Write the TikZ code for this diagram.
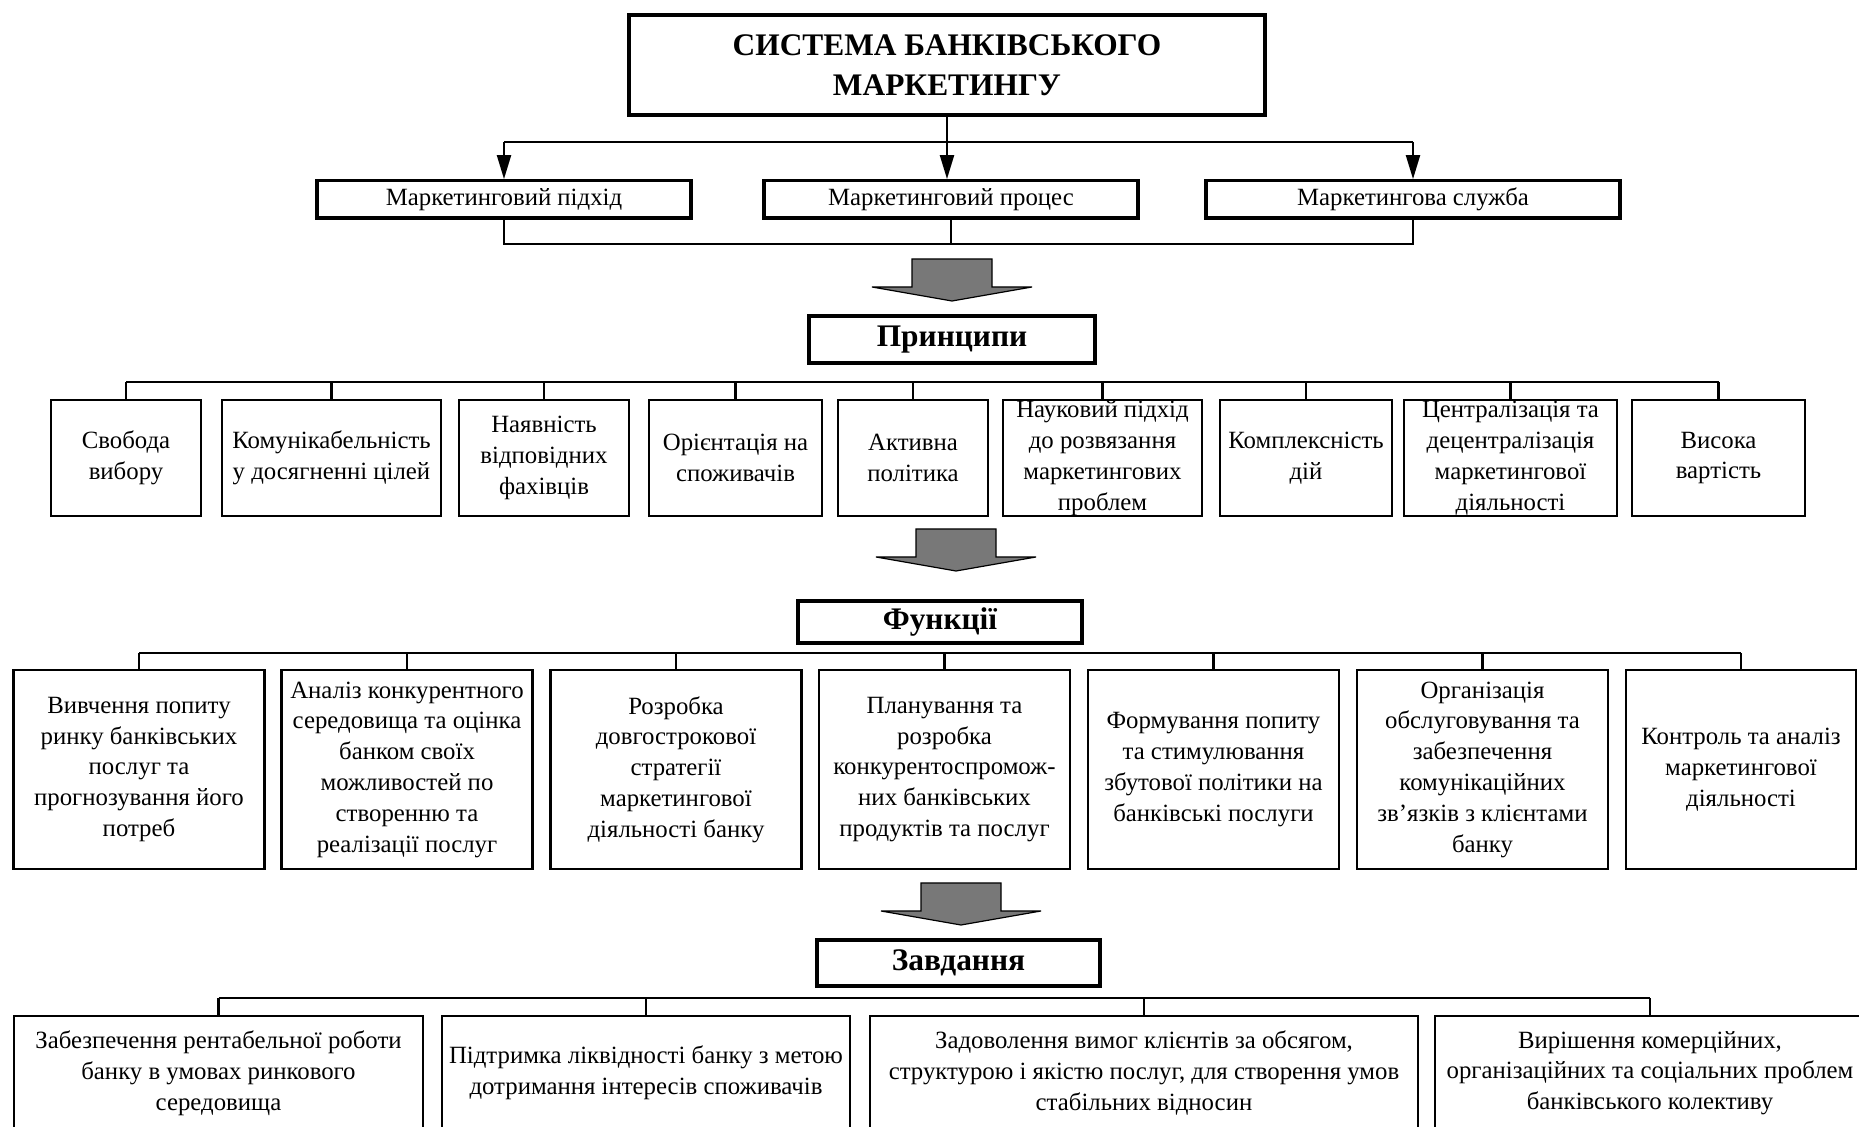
\documentclass[tikz,border=0pt]{standalone}
\usepackage{fontspec}
\setmainfont{Liberation Serif}
\usetikzlibrary{positioning,arrows.meta}

\tikzset{
	secbox/.style={draw, line width=1.9pt, align=center, inner sep=1pt, font=\bfseries\fontsize{15.7}{20}\selectfont},
	midbox/.style={draw, line width=1.7pt, align=center, inner sep=1pt, minimum height=18.7pt, font=\fontsize{12.4}{15.4}\selectfont},
	itembox/.style={draw, line width=1.2pt, align=center, inner xsep=2pt, inner ysep=1pt, font=\fontsize{12.4}{15.4}\selectfont},
	itemtext/.style={align=center, inner sep=0pt, font=\fontsize{12.4}{15.4}\selectfont},
	bus/.style={line width=1.1pt},
	blockarrow/.style={draw, line width=0.6pt, fill=black!53},
}

\begin{document}
\begin{tikzpicture}[x=0.5pt, y=-0.5pt, >={Triangle[length=12pt,width=7pt]}]
	\useasboundingbox (0,0) rectangle (1859,1127);
	\clip (0,0) rectangle (1859,1127);

	\node[secbox, line width=2.2pt, minimum width=318pt, minimum height=50pt] (title) at (947,65) {СИСТЕМА БАНКІВСЬКОГО\\МАРКЕТИНГУ};

	\node[midbox, minimum width=187pt] (approach) at (504,199.5) {Маркетинговий підхід};
	\node[midbox, minimum width=187pt] (process) at (951,199.5) {Маркетинговий процес};
	\node[midbox, minimum width=207pt] (service) at (1413,199.5) {Маркетингова служба};

	\coordinate (busA) at (0,142);
	\coordinate (busB) at (0,244);
	\draw[bus] (approach.north |- busA) -- (service.north |- busA);
	\draw[bus, ->] (approach.north |- busA) -- (approach.north);
	\draw[bus, ->] (title.south) -- (title.south |- process.north);
	\draw[bus, ->] (service.north |- busA) -- (service.north);
	\draw[bus] (approach.south) -- (approach.south |- busB) -- (service.south |- busB) -- (service.south);
	\draw[bus] (process.south) -- (process.south |- busB);

	\foreach \ax/\ay in {952/259, 956/529, 961/883}
		\draw[blockarrow] (\ax-40,\ay) -- (\ax+40,\ay) -- (\ax+40,\ay+28) -- (\ax+80,\ay+28) -- (\ax,\ay+42) -- (\ax-80,\ay+28) -- (\ax-40,\ay+28) -- cycle;

	\node[secbox, minimum width=143pt, minimum height=23.5pt] (principles) at (952,339.5) {Принципи};

	\node[itembox, minimum width=75pt, minimum height=58pt] (p1) at (126,458) {Свобода\\вибору};
	\node[itembox, minimum width=109.5pt, minimum height=58pt] (p2) at (331.5,458) {Комунікабельність\\у досягненні цілей};
	\node[itembox, minimum width=85pt, minimum height=58pt] (p3) at (544,458) {Наявність\\відповідних\\фахівців};
	\node[itembox, minimum width=86.5pt, minimum height=58pt] (p4) at (735.5,458) {Орієнтація на\\споживачів};
	\node[itembox, minimum width=75pt, minimum height=58pt] (p5) at (913,458) {Активна\\політика};
	\node[itembox, minimum width=99.5pt, minimum height=58pt, label={[itemtext]center:{Науковий підхід\\до розвязання\\маркетингових\\проблем}}] (p6) at (1102.5,458) {};
	\node[itembox, minimum width=86pt, minimum height=58pt] (p7) at (1306,458) {Комплексність\\дій};
	\node[itembox, minimum width=106.5pt, minimum height=58pt, label={[itemtext]center:{Централізація та\\децентралізація\\маркетингової\\діяльності}}] (p8) at (1510.5,458) {};
	\node[itembox, minimum width=86.5pt, minimum height=58pt] (p9) at (1718.5,458) {Висока\\вартість};

	\coordinate (busP) at (0,382);
	\draw[bus] (p1.north |- busP) -- (p9.north |- busP);
	\foreach \i in {1,...,9}
		\draw[bus] (p\i.north) -- (p\i.north |- busP);

	\node[secbox, minimum width=142pt, minimum height=21pt] (functions) at (940,622) {Функції};

	\node[itembox, minimum width=125.5pt, minimum height=99.5pt] (f1) at (139,769.5) {Вивчення попиту\\ринку банківських\\послуг та\\прогнозування його\\потреб};
	\node[itembox, minimum width=125.5pt, minimum height=99.5pt] (f2) at (407,769.5) {Аналіз конкурентного\\середовища та оцінка\\банком своїх\\можливостей по\\створенню та\\реалізації послуг};
	\node[itembox, minimum width=125.5pt, minimum height=99.5pt] (f3) at (676,769.5) {Розробка\\довгострокової\\стратегії\\маркетингової\\діяльності банку};
	\node[itembox, minimum width=125.5pt, minimum height=99.5pt] (f4) at (944.5,769.5) {Планування та\\розробка\\конкурентоспромож-\\них банківських\\продуктів та послуг};
	\node[itembox, minimum width=125.5pt, minimum height=99.5pt] (f5) at (1213.5,769.5) {Формування попиту\\та стимулювання\\збутової політики на\\банківські послуги};
	\node[itembox, minimum width=125.5pt, minimum height=99.5pt] (f6) at (1482.5,769.5) {Організація\\обслуговування та\\забезпечення\\комунікаційних\\зв\symbol{39}язків з клієнтами\\банку};
	\node[itembox, minimum width=115pt, minimum height=99.5pt] (f7) at (1741,769.5) {Контроль та аналіз\\маркетингової\\діяльності};

	\coordinate (busF) at (0,653);
	\draw[bus] (f1.north |- busF) -- (f7.north |- busF);
	\foreach \i in {1,...,7}
		\draw[bus] (f\i.north) -- (f\i.north |- busF);

	\node[secbox, minimum width=141.5pt, minimum height=23pt] (tasks) at (958.5,963) {Завдання};

	\node[itembox, minimum width=204.5pt, minimum height=57pt] (t1) at (218.5,1073) {Забезпечення рентабельної роботи\\банку в умовах ринкового\\середовища};
	\node[itembox, minimum width=204pt, minimum height=57pt] (t2) at (646,1073) {Підтримка ліквідності банку з метою\\дотримання інтересів споживачів};
	\node[itembox, minimum width=274pt, minimum height=57pt] (t3) at (1144,1073) {Задоволення вимог клієнтів за обсягом,\\структурою і якістю послуг, для створення умов\\стабільних відносин};
	\node[itembox, minimum width=215pt, minimum height=57pt] (t4) at (1650,1073) {Вирішення комерційних,\\організаційних та соціальних проблем\\банківського колективу};

	\coordinate (busT) at (0,998);
	\draw[bus] (t1.north |- busT) -- (t4.north |- busT);
	\foreach \i in {1,...,4}
		\draw[bus] (t\i.north) -- (t\i.north |- busT);
\end{tikzpicture}
\end{document}
